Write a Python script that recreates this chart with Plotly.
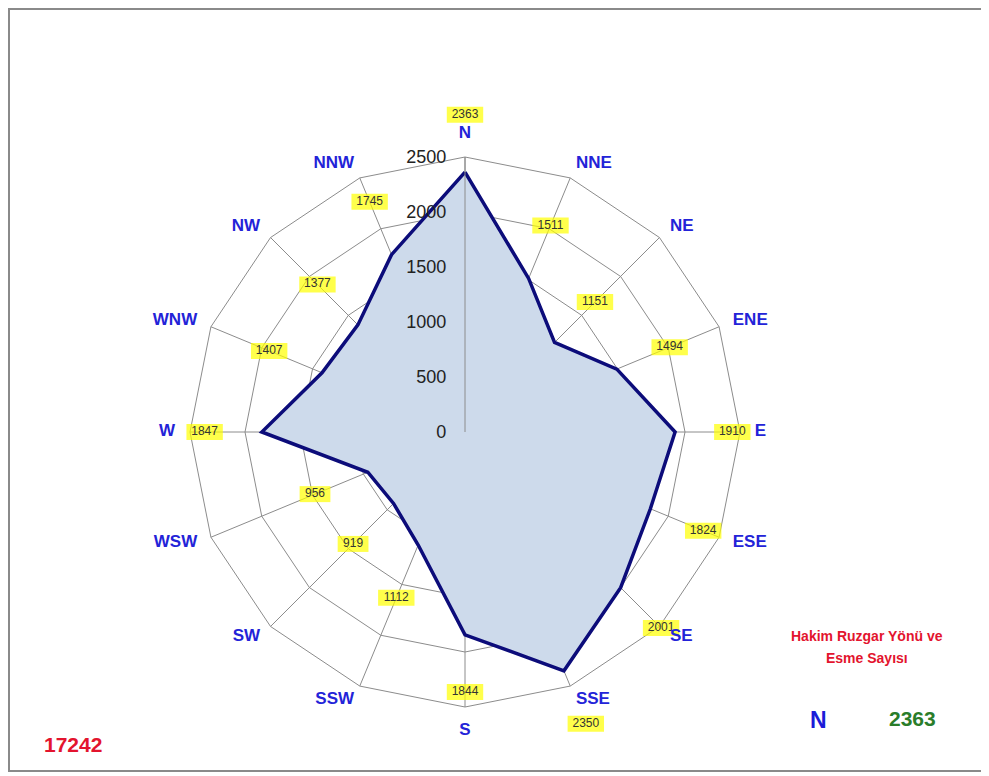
import plotly.graph_objects as go

directions = ["N", "NNE", "NE", "ENE", "E", "ESE", "SE", "SSE",
              "S", "SSW", "SW", "WSW", "W", "WNW", "NW", "NNW"]
counts = [2363, 1511, 1151, 1494, 1910, 1824, 2001, 2350,
          1844, 1112, 919, 956, 1847, 1407, 1377, 1745]
radial_ticks = [0, 500, 1000, 1500, 2000, 2500]
total_label = "17242"
title_lines = ["Hakim Ruzgar Yönü ve", "Esme Sayısı"]
dominant_dir = "N"
dominant_count = "2363"

# label placement (style, not data)
label_offset = 520          # data labels sit this far beyond their point
dir_label_r = 2635          # anchor ring of the direction names
r_max = 2500                # axis maximum
r_outer = 3000              # overlay range for labels outside the grid

W, H = 989, 776
OFF = 8  # page body margin
cx, cy, R = 465 - OFF, 432 - OFF, 275
R2 = R * r_outer / r_max

n = len(directions)
dir_positions = []
for i in range(n):
    if i == 0:
        dir_positions.append("top center")
    elif i == n // 2:
        dir_positions.append("bottom center")
    elif i < n // 2:
        dir_positions.append("middle right")
    else:
        dir_positions.append("middle left")

fig = go.Figure()

fig.add_trace(go.Scatterpolar(
    r=counts + [counts[0]],
    theta=directions + [directions[0]],
    mode="lines",
    fill="toself",
    fillcolor="rgb(205,218,235)",
    line=dict(color="#0c0c7a", width=3.5),
    hoverinfo="skip",
    showlegend=False,
    subplot="polar",
))

label_r = [c + label_offset for c in counts]
box_sizes = [26 if len(str(c)) >= 4 else 22 for c in counts]

fig.add_trace(go.Scatterpolar(
    r=label_r,
    theta=directions,
    mode="markers",
    marker=dict(symbol="line-ew", size=box_sizes, color="#ffff00",
                line=dict(color="#ffff00", width=16)),
    cliponaxis=False,
    hoverinfo="skip",
    showlegend=False,
    subplot="polar2",
))

fig.add_trace(go.Scatterpolar(
    r=label_r,
    theta=directions,
    mode="text",
    text=[str(c) for c in counts],
    textfont=dict(family="Arial, Liberation Sans", size=12, color="#333333"),
    cliponaxis=False,
    hoverinfo="skip",
    showlegend=False,
    subplot="polar2",
))

fig.add_trace(go.Scatterpolar(
    r=[dir_label_r] * n,
    theta=directions,
    mode="text",
    text=directions,
    textposition=dir_positions,
    textfont=dict(family="Arial, Liberation Sans", size=17,
                  color="#2323d8", weight="bold"),
    cliponaxis=False,
    hoverinfo="skip",
    showlegend=False,
    subplot="polar2",
))

fig.update_layout(
    width=W, height=H,
    margin=dict(l=0, r=0, t=0, b=0),
    paper_bgcolor="white",
    plot_bgcolor="white",
    showlegend=False,
    polar=dict(
        domain=dict(x=[(cx - R) / W, (cx + R) / W],
                    y=[(H - cy - R) / H, (H - cy + R) / H]),
        bgcolor="white",
        gridshape="linear",
        angularaxis=dict(
            rotation=90,
            direction="clockwise",
            categoryorder="array",
            categoryarray=directions,
            showticklabels=False,
            showline=True,
            linecolor="#8c8c8c",
            linewidth=1,
            gridcolor="#8c8c8c",
            gridwidth=1,
            ticks="",
        ),
        radialaxis=dict(
            range=[0, r_max],
            tickvals=radial_ticks,
            angle=90,
            side="counterclockwise",
            tickangle=90,
            showline=True,
            linecolor="#8c8c8c",
            gridcolor="#8c8c8c",
            gridwidth=1,
            ticks="outside",
            ticklen=12,
            tickcolor="rgba(0,0,0,0)",
            tickfont=dict(family="Arial, Liberation Sans", size=18, color="#222222"),
        ),
    ),
    polar2=dict(
        domain=dict(x=[(cx - R2) / W, (cx + R2) / W],
                    y=[(H - cy - R2) / H, (H - cy + R2) / H]),
        bgcolor="rgba(0,0,0,0)",
        gridshape="linear",
        angularaxis=dict(
            rotation=90,
            direction="clockwise",
            categoryorder="array",
            categoryarray=directions,
            showticklabels=False,
            showline=False,
            showgrid=False,
            ticks="",
        ),
        radialaxis=dict(range=[0, r_outer], visible=False, showgrid=False),
    ),
)

fig.add_shape(type="rect", xref="paper", yref="paper",
              x0=1 / W, x1=(985 - OFF) / W, y0=1 - (771 - OFF) / H, y1=1 - 1 / H,
              line=dict(color="#8a8a8a", width=2))

def ann(text, x, y, size, color):
    fig.add_annotation(text=text, x=(x - OFF) / W, y=1 - (y - OFF) / H,
                       xref="paper", yref="paper",
                       showarrow=False, xanchor="center", yanchor="middle",
                       font=dict(family="Arial, Liberation Sans", size=size,
                                 color=color, weight="bold"))

ann(total_label, 73, 744, 21, "#e3142e")
ann(title_lines[0], 867, 636, 14, "#e3142e")
ann(title_lines[1], 867, 658, 14, "#e3142e")
ann(dominant_dir, 818, 720, 23, "#1c1cd8")
ann(dominant_count, 912, 718, 21, "#2a7d2a")

fig.write_html("out.html")
